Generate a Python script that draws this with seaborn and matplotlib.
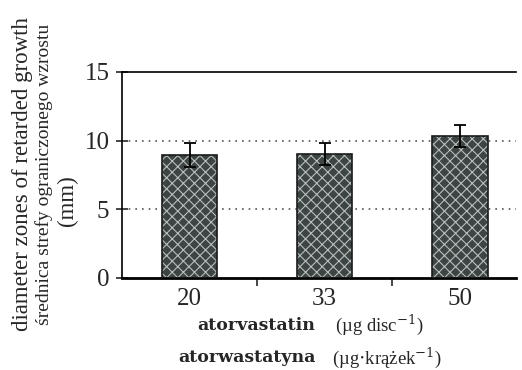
import numpy as np
import pandas as pd
import seaborn as sns
import matplotlib.pyplot as plt

# data
doses = ["20", "33", "50"]
zone_mean = [8.95, 9.05, 10.35]
zone_err = [0.85, 0.8, 0.82]

sns.set_style("ticks")
plt.rcParams["font.family"] = ["Liberation Serif", "DejaVu Serif"]
plt.rcParams["mathtext.fontset"] = "dejavuserif"
plt.rcParams["hatch.linewidth"] = 0.8

df = pd.DataFrame({"dose": doses, "zone": zone_mean})

fig = plt.figure(figsize=(5.22, 3.70), dpi=100)
ax = fig.add_axes([122 / 522, 1 - 278 / 370, 394 / 522, 206 / 370])

# hatched fill, then black outline on top
sns.barplot(data=df, x="dose", y="zone", color="#3a4644", width=0.41,
            edgecolor="#b9bebd", linewidth=0, hatch="xxx", ax=ax, zorder=2)
sns.barplot(data=df, x="dose", y="zone", fill=False, width=0.41,
            edgecolor="#1a1a1a", linewidth=1.2, ax=ax, zorder=3)
ax.errorbar(np.arange(len(doses)), zone_mean, yerr=zone_err, fmt="none",
            ecolor="black", elinewidth=1.3, capsize=4, capthick=1.3, zorder=4)

ax.set_xlim(-0.5, 2.415)
ax.set_ylim(0, 15)
ax.set_yticks([0, 5, 10, 15])
for v in [5, 10]:
    ax.axhline(v, color="#555555", linestyle=(0, (1, 3)), linewidth=1.2, zorder=1)

ax.set_xticks([0.5, 1.5], minor=True)
ax.tick_params(axis="x", which="major", length=0, pad=7, labelsize=18)
ax.tick_params(axis="x", which="minor", length=6, width=1.2, direction="out")
ax.tick_params(axis="y", length=8, width=1.2, direction="inout", pad=5, labelsize=18)

ax.set_xlabel("")
ax.set_ylabel("")
for s in ["left", "bottom", "top"]:
    ax.spines[s].set_color("black")
ax.spines["left"].set_linewidth(1.2)
ax.spines["bottom"].set_linewidth(2)
ax.spines["top"].set_linewidth(1.2)
ax.spines["right"].set_visible(False)

# y axis title in three lines
fig.text(23 / 522, 1 - 174 / 370, "diameter zones of retarded growth",
         rotation=90, ha="center", va="center", fontsize=16.5)
fig.text(44 / 522, 1 - 174 / 370, "średnica strefy ograniczonego wzrostu",
         rotation=90, ha="center", va="center", fontsize=14)
fig.text(67 / 522, 1 - 201 / 370, "(mm)",
         rotation=90, ha="center", va="center", fontsize=16.5)

# x axis title, bold name + unit
fig.text(197 / 522, 1 - 325 / 370, "atorvastatin", ha="left", va="center",
         fontsize=12.5, fontweight="bold", family="DejaVu Serif")
fig.text(335 / 522, 1 - 325 / 370, r"(µg disc$^{-1}$)", ha="left",
         va="center", fontsize=13.5)
fig.text(178 / 522, 1 - 358 / 370, "atorwastatyna", ha="left", va="center",
         fontsize=12.5, fontweight="bold", family="DejaVu Serif")
fig.text(332 / 522, 1 - 358 / 370, r"(µg$\cdot$krążek$^{-1}$)",
         ha="left", va="center", fontsize=13.5)

fig.savefig("out.png", dpi=100)
